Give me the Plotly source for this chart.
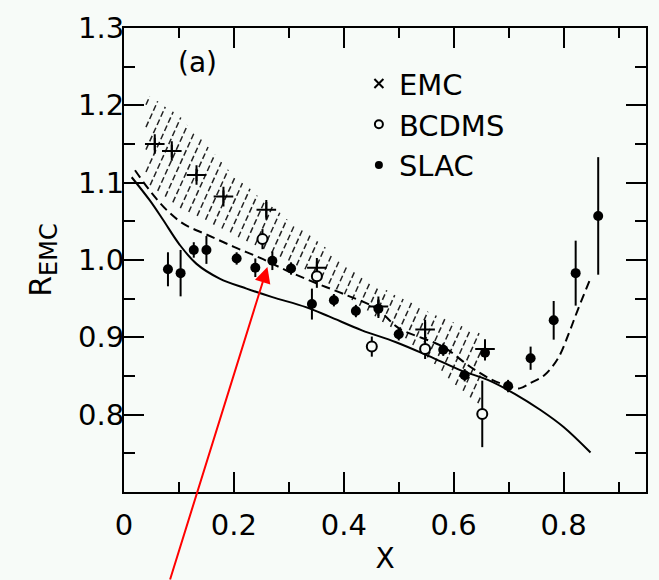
import numpy as np
import plotly.graph_objects as go

# ---------------- data ----------------
emc_x = [0.056, 0.087, 0.132, 0.181, 0.259, 0.351, 0.463, 0.548, 0.657]
emc_y = [1.150, 1.141, 1.110, 1.082, 1.065, 0.990, 0.940, 0.910, 0.885]
emc_err = [0.008, 0.008, 0.008, 0.008, 0.010, 0.008, 0.008, 0.010, 0.008]

bcdms_x = [0.252, 0.351, 0.451, 0.548, 0.652]
bcdms_y = [1.027, 0.979, 0.888, 0.885, 0.801]
bcdms_err = [0.013, 0.015, 0.013, 0.013, 0.043]

slac_x = [0.080, 0.103, 0.127, 0.150, 0.205, 0.239, 0.270, 0.304, 0.342, 0.382,
          0.422, 0.463, 0.500, 0.581, 0.620, 0.657, 0.699, 0.740, 0.782, 0.822, 0.863]
slac_y = [0.988, 0.983, 1.013, 1.013, 1.002, 0.990, 0.999, 0.989, 0.943, 0.948,
          0.934, 0.937, 0.904, 0.884, 0.851, 0.880, 0.837, 0.873, 0.922, 0.983, 1.057]
slac_err = [0.022, 0.030, 0.010, 0.018, 0.008, 0.012, 0.012, 0.008, 0.020, 0.008,
            0.008, 0.012, 0.008, 0.008, 0.008, 0.010, 0.008, 0.015, 0.025, 0.042, 0.076]

dash_x = [0.02, 0.05, 0.08, 0.11, 0.15, 0.20, 0.25, 0.30, 0.35, 0.40, 0.46, 0.50,
          0.58, 0.63, 0.67, 0.70, 0.72, 0.74, 0.765, 0.79, 0.81, 0.825, 0.85]
dash_y = [1.116, 1.087, 1.063, 1.046, 1.033, 1.017, 1.002, 0.985, 0.970, 0.956, 0.937, 0.912,
          0.888, 0.862, 0.845, 0.837, 0.834, 0.841, 0.851, 0.873, 0.906, 0.934, 0.978]

solid_x = [0.014, 0.047, 0.071, 0.101, 0.132, 0.174, 0.223, 0.270, 0.331, 0.373,
           0.433, 0.494, 0.554, 0.614, 0.662, 0.711, 0.758, 0.800, 0.849]
solid_y = [1.107, 1.077, 1.052, 1.020, 0.995, 0.976, 0.963, 0.952, 0.939, 0.927,
           0.909, 0.894, 0.876, 0.857, 0.845, 0.827, 0.806, 0.784, 0.751]

band_x = [0.04, 0.10, 0.15, 0.20, 0.25, 0.30, 0.35, 0.40, 0.45, 0.50, 0.55, 0.60, 0.65]
band_hi = [1.215, 1.188, 1.150, 1.110, 1.080, 1.052, 1.026, 0.997, 0.972, 0.953, 0.935, 0.920, 0.905]
band_lo = [1.100, 1.068, 1.050, 1.032, 1.015, 0.998, 0.980, 0.955, 0.930, 0.905, 0.875, 0.840, 0.810]

y_ticks = [0.8, 0.9, 1.0, 1.1, 1.2, 1.3]
y_tick_text = ["0.8", "0.9", "1.0", "1.1", "1.2", "1.3"]
x_ticks = [0, 0.2, 0.4, 0.6, 0.8]
x_tick_text = ["0", "0.2", "0.4", "0.6", "0.8"]

BG = "#f7fbf8"
FONT = "DejaVu Sans"

# hatch lines clipped to the band (steep '/' hatching)
HATCH_SLOPE = 1.57   # data units of y per unit x
HATCH_STEP = 0.029
xs = np.linspace(band_x[0], band_x[-1], 800)
lo_i = np.interp(xs, band_x, band_lo)
hi_i = np.interp(xs, band_x, band_hi)
hx, hy = [], []
c_min = float(np.min(lo_i - HATCH_SLOPE * xs))
c_max = float(np.max(hi_i - HATCH_SLOPE * xs))
for c in np.arange(c_min + HATCH_STEP / 2, c_max, HATCH_STEP):
    yl = HATCH_SLOPE * xs + c
    m = (yl >= lo_i) & (yl <= hi_i)
    if m.sum() < 2:
        continue
    idx = np.where(m)[0]
    hx += [xs[idx[0]], xs[idx[-1]], None]
    hy += [yl[idx[0]], yl[idx[-1]], None]

fig = go.Figure()

fig.add_trace(go.Scatter(x=hx, y=hy, mode="lines", line=dict(color="#222", width=1.5, dash="6px,3px"),
                         showlegend=False, hoverinfo="skip"))

# curves
fig.add_trace(go.Scatter(x=solid_x, y=solid_y, mode="lines", line=dict(color="black", width=2, shape="spline"),
                         showlegend=False))
fig.add_trace(go.Scatter(x=dash_x, y=dash_y, mode="lines",
                         line=dict(color="black", width=2, shape="spline", dash="9px,5px"),
                         showlegend=False))

err_style = dict(type="data", color="black", thickness=2, width=0)

fig.add_trace(go.Scatter(x=emc_x, y=emc_y, mode="markers",
                         marker=dict(symbol="cross-thin", size=14, line=dict(color="black", width=2)),
                         error_y=dict(array=emc_err, **err_style), showlegend=False))
fig.add_trace(go.Scatter(x=bcdms_x, y=bcdms_y, mode="markers",
                         marker=dict(symbol="circle", size=10, color=BG, line=dict(color="black", width=2)),
                         error_y=dict(array=bcdms_err, **err_style), showlegend=False))
fig.add_trace(go.Scatter(x=slac_x, y=slac_y, mode="markers",
                         marker=dict(symbol="circle", size=10, color="black"),
                         error_y=dict(array=slac_err, **err_style), showlegend=False))

# legend entries
fig.add_trace(go.Scatter(x=[None], y=[None], mode="markers", name="EMC",
                         marker=dict(symbol="x-thin", size=9, line=dict(color="black", width=2))))
fig.add_trace(go.Scatter(x=[None], y=[None], mode="markers", name="BCDMS",
                         marker=dict(symbol="circle", size=8, color=BG, line=dict(color="black", width=2))))
fig.add_trace(go.Scatter(x=[None], y=[None], mode="markers", name="SLAC",
                         marker=dict(symbol="circle", size=8, color="black")))

axis_common = dict(showline=True, linecolor="black", linewidth=2, mirror="ticks",
                   ticks="inside", tickcolor="black", tickwidth=2, showgrid=False, zeroline=False,
                   tickfont=dict(family=FONT, size=29, color="black"))

fig.update_xaxes(range=[0, 0.95], tickvals=x_ticks, ticktext=x_tick_text, ticklen=20,
                 minor=dict(dtick=0.1, tick0=0, ticklen=10, tickwidth=2, tickcolor="black", ticks="inside"),
                 ticklabelstandoff=6,
                 title=dict(text="X", font=dict(family=FONT, size=28, color="black"), standoff=8),
                 **axis_common)
fig.update_yaxes(range=[0.7, 1.3], tickvals=y_ticks, ticktext=y_tick_text, ticklen=20,
                 minor=dict(dtick=0.05, tick0=0.7, ticklen=11, tickwidth=2, tickcolor="black", ticks="inside"),
                 ticklabelstandoff=-8,
                 title=dict(text="R<sub><span style='font-size:24px'>EMC</span></sub>",
                            font=dict(family=FONT, size=30, color="black"), standoff=18),
                 **axis_common)

fig.add_annotation(x=0.134, y=1.255, xref="x", yref="y", text="(a)", showarrow=False,
                   font=dict(family=FONT, size=28, color="black"))

fig.add_annotation(x=0.261, y=0.991, xref="x", yref="y", ax=0.083, ay=0.585, axref="x", ayref="y",
                   text="", showarrow=True, arrowhead=2, arrowsize=1.6, arrowwidth=2, arrowcolor="red",
                   standoff=0)

fig.update_layout(
    width=659, height=580,
    margin=dict(l=124, r=11, t=20, b=72),
    paper_bgcolor=BG, plot_bgcolor=BG,
    font=dict(family=FONT, color="black"),
    legend=dict(x=0.45, y=0.935, xanchor="left", yanchor="top", bgcolor="rgba(0,0,0,0)",
                font=dict(family=FONT, size=29, color="black"), itemsizing="trace"),
    showlegend=True,
)

fig.write_html("out.html")
